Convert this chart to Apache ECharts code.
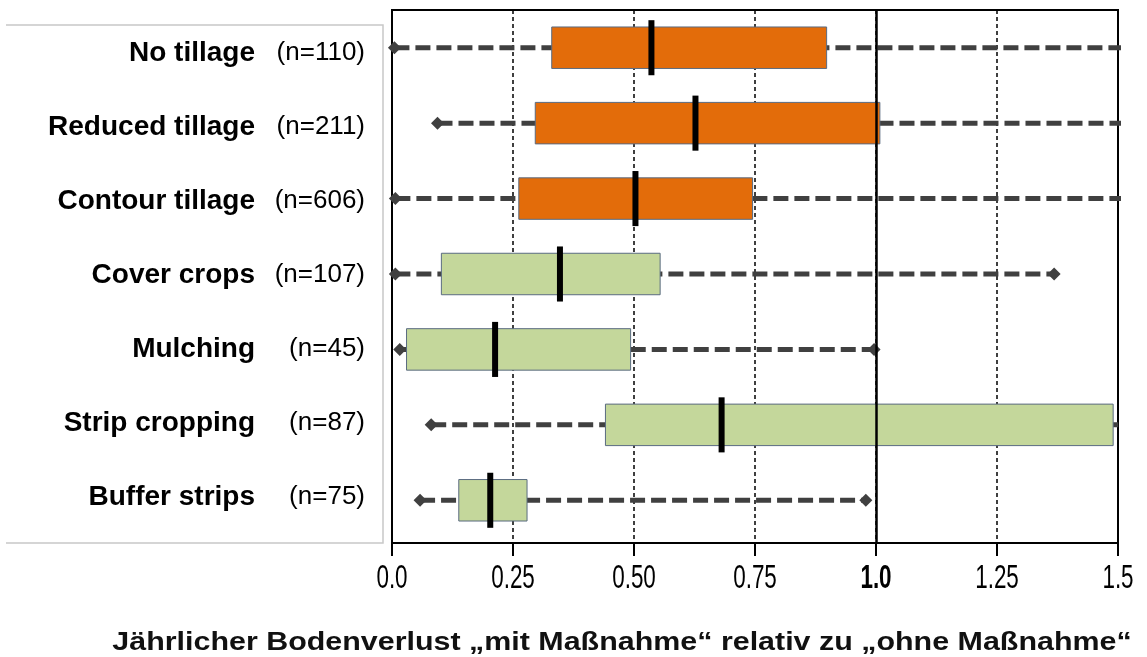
<!DOCTYPE html>
<html>
<head>
<meta charset="utf-8">
<script src="https://cdn.jsdelivr.net/npm/echarts@6/dist/echarts.min.js"></script>
<style>
html,body{margin:0;padding:0;background:#fff;}
#chart{width:1147px;height:657px;}
</style>
</head>
<body>
<div id="chart"></div>
<script>
// ---- data ----
const categories = ['No tillage', 'Reduced tillage', 'Contour tillage', 'Cover crops', 'Mulching', 'Strip cropping', 'Buffer strips'];
const sampleSizes = [110, 211, 606, 107, 45, 87, 75];
const groups = ['tillage', 'tillage', 'tillage', 'cover', 'cover', 'cover', 'cover'];
const whiskerLow = [0.005, 0.094, 0.007, 0.007, 0.016, 0.081, 0.058];
const boxLow = [0.330, 0.296, 0.262, 0.102, 0.030, 0.441, 0.138];
const medians = [0.536, 0.627, 0.503, 0.347, 0.213, 0.681, 0.203];
const boxHigh = [0.898, 1.008, 0.745, 0.554, 0.493, 1.490, 0.279];
const whiskerHigh = [null, null, null, 1.368, 0.996, null, 0.979]; // null = beyond axis end
const tickValues = [0, 0.25, 0.5, 0.75, 1.0, 1.25, 1.5];
const tickLabels = ['0.0', '0.25', '0.50', '0.75', '1.0', '1.25', '1.5'];
const xTitle = 'Jährlicher Bodenverlust „mit Maßnahme“ relativ zu „ohne Maßnahme“';
const xMin = 0, xMax = 1.5, xInterval = 0.25;

const groupColors = { tillage: '#E36C0A', cover: '#C4D79B' };
const FONT = '"Liberation Sans", Arial, sans-serif';

const rows = categories.map((c, i) => [i, whiskerLow[i], boxLow[i], medians[i], boxHigh[i], whiskerHigh[i] == null ? xMax : whiskerHigh[i], whiskerHigh[i] == null ? 0 : 1]);

const chart = echarts.init(document.getElementById('chart'), null, { renderer: 'canvas' });

function diamond(x, y, r) {
  return [[x - r, y], [x, y - r], [x + r, y], [x, y + r]];
}

function renderBox(params, api) {
  const i = params.dataIndex;
  const idx = api.value(0);
  const band = api.size([0, 1])[1];
  const pMin = api.coord([api.value(1), idx]);
  const pQ1 = api.coord([api.value(2), idx]);
  const pMed = api.coord([api.value(3), idx]);
  const pQ3 = api.coord([api.value(4), idx]);
  const pMax = api.coord([api.value(5), idx]);
  const hasMax = api.value(6) === 1;
  const y = pMin[1];
  const boxH = band * 0.55;
  const medH = band * 0.73;
  const dark = '#404040';
  const children = [
    { type: 'line', shape: { x1: pMin[0], y1: y, x2: hasMax ? pMax[0] : pMax[0] + 3, y2: y },
      style: { stroke: dark, lineWidth: 5, lineDash: [15, 6] } },
    { type: 'polygon', shape: { points: diamond(pMin[0], y, 6.5) }, style: { fill: dark } }
  ];
  if (hasMax) children.push({ type: 'polygon', shape: { points: diamond(pMax[0], y, 6.5) }, style: { fill: dark } });
  children.push({ type: 'rect', shape: { x: pQ1[0], y: y - boxH / 2, width: pQ3[0] - pQ1[0], height: boxH },
    style: { fill: groupColors[groups[i]], stroke: '#5a6b80', lineWidth: 1 } });
  children.push({ type: 'rect', shape: { x: pMed[0] - 3, y: y - medH / 2, width: 6, height: medH }, style: { fill: '#000' } });
  return { type: 'group', children: children };
}

// x tick labels drawn through the axis scale, condensed like the original
function renderTickLabel(params, api) {
  const i = params.dataIndex;
  const p = api.coord([api.value(0), 0]);
  return {
    type: 'text', x: p[0], y: p[1] + 19, scaleX: 0.66,
    style: {
      text: tickLabels[i], x: 0, y: 0, align: 'center', verticalAlign: 'top',
      font: (Math.abs(tickValues[i] - 1) < 1e-9 ? 'bold ' : '') + '34px ' + FONT,
      fill: '#000'
    }
  };
}

const option = {
  animation: false,
  backgroundColor: '#fff',
  grid: [
    { left: 392, right: 29, top: 10, bottom: 119 },
    { left: 392, right: 29, top: 10, bottom: 114, show: true, borderColor: '#000', borderWidth: 2, backgroundColor: 'transparent' },
    { left: 392, right: 29, top: 16, bottom: 123 }
  ],
  xAxis: [
    { gridIndex: 0, type: 'value', min: xMin, max: xMax, interval: xInterval, show: false },
    {
      gridIndex: 1, type: 'value', min: xMin, max: xMax, interval: xInterval,
      axisLine: { show: true, lineStyle: { color: '#000', width: 2 } },
      axisTick: { show: true, inside: false, length: 13, lineStyle: { color: '#000', width: 2 } },
      splitLine: { show: true, lineStyle: { color: '#000', width: 1.5, type: [4, 3] } },
      axisLabel: { show: false }
    },
    { gridIndex: 2, type: 'value', min: xMin, max: xMax, interval: xInterval, show: false }
  ],
  yAxis: [
    { gridIndex: 0, type: 'category', data: categories, inverse: true, show: false },
    { gridIndex: 1, type: 'value', min: 0, max: 1, show: false },
    {
      gridIndex: 2, type: 'category', data: categories, inverse: true,
      axisLine: { show: false }, axisTick: { show: false }, splitLine: { show: false },
      axisLabel: {
        margin: 27,
        align: 'right',
        formatter: function (v, i) {
          return '{a|' + v + '}{b|(n=' + sampleSizes[i] + ')}';
        },
        rich: {
          a: { fontFamily: FONT, fontWeight: 'bold', fontSize: 28, color: '#000' },
          b: { fontFamily: FONT, fontSize: 26, color: '#000', width: 110, align: 'right' }
        }
      }
    }
  ],
  graphic: [
    {
      type: 'polyline', z: -1,
      shape: { points: [[6, 25], [383, 25], [383, 543], [6, 543]] },
      style: { stroke: '#c8c8c8', lineWidth: 1.5, fill: null }
    },
    {
      type: 'text', x: 622, y: 643, scaleX: 1.17,
      style: { text: xTitle, x: 0, y: 0, align: 'center', verticalAlign: 'middle',
        font: 'bold 26px ' + FONT, fill: '#111' }
    }
  ],
  series: [
    {
      type: 'line', xAxisIndex: 1, yAxisIndex: 1, data: [], z: 1, silent: true,
      markLine: {
        symbol: 'none', silent: true, label: { show: false },
        lineStyle: { color: '#000', width: 2.5, type: 'solid' },
        data: [{ xAxis: 1.0 }]
      }
    },
    {
      type: 'custom', xAxisIndex: 0, yAxisIndex: 0, z: 3, clip: false,
      renderItem: renderBox,
      encode: { x: [1, 2, 3, 4, 5], y: 0 },
      data: rows
    },
    {
      type: 'custom', xAxisIndex: 1, yAxisIndex: 1, z: 3, clip: false, silent: true,
      renderItem: renderTickLabel,
      encode: { x: 0, y: 1 },
      data: tickValues.map(v => [v, 0])
    }
  ]
};
chart.setOption(option);
</script>
</body>
</html>
